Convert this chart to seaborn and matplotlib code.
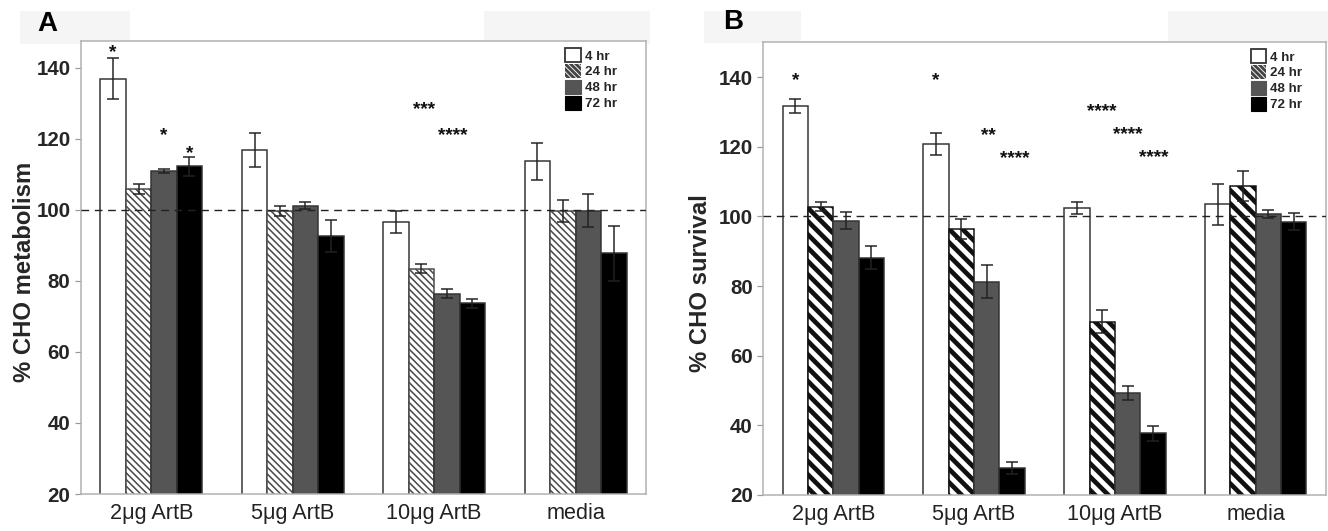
import numpy as np
import pandas as pd
import matplotlib
matplotlib.use("Agg")
import matplotlib.pyplot as plt
import matplotlib.patches as mpatches
import seaborn as sns

# ---------------- data ----------------
categories = ["2\u03bcg ArtB", "5\u03bcg ArtB", "10\u03bcg ArtB", "media"]
times = ["4 hr", "24 hr", "48 hr", "72 hr"]

# Panel A: % CHO metabolism
metab_4 = [137.0, 116.8, 96.7, 113.7]
metab_24 = [105.9, 99.8, 83.5, 99.6]
metab_48 = [110.9, 101.2, 76.4, 99.8]
metab_72 = [112.3, 92.7, 73.7, 87.8]
metab_err_4 = [5.7, 4.8, 3.1, 5.2]
metab_err_24 = [1.3, 1.4, 1.2, 3.1]
metab_err_48 = [0.5, 1.0, 1.2, 4.6]
metab_err_72 = [2.7, 4.5, 1.3, 7.7]

# Panel B: % CHO survival
surv_4 = [131.8, 120.8, 102.4, 103.5]
surv_24 = [102.8, 96.4, 69.8, 108.8]
surv_48 = [98.8, 81.3, 49.3, 100.7]
surv_72 = [88.2, 27.7, 37.7, 98.5]
surv_err_4 = [2.0, 3.2, 1.6, 5.9]
surv_err_24 = [1.2, 2.8, 3.2, 4.3]
surv_err_48 = [2.5, 4.7, 1.9, 1.1]
surv_err_72 = [3.2, 1.7, 2.2, 2.5]

# significance marks: (category index, time index, y, text, x shift in bar widths)
stars_A = [(0, 0, 145.2, "*", 0.0), (0, 2, 121.9, "*", 0.0), (0, 3, 116.7, "*", 0.0),
           (2, 1, 129.0, "***", 0.1), (2, 2, 121.9, "****", 0.22)]
stars_B = [(0, 0, 140.0, "*", 0.0), (1, 0, 140.0, "*", 0.0), (1, 2, 124.0, "**", 0.07),
           (1, 3, 117.5, "****", 0.1), (2, 1, 131.0, "****", 0.0),
           (2, 2, 124.3, "****", 0.0), (2, 3, 117.7, "****", 0.05)]

ylabels = ["% CHO metabolism", "% CHO survival"]
panel_letters = ["A", "B"]
yticks = [20, 40, 60, 80, 100, 120, 140]

# ---------------- style ----------------
sns.set_style("white")
plt.rcParams["font.family"] = ["Liberation Sans", "DejaVu Sans"]

DPI = 80
W, H = 1328, 531
fig = plt.figure(figsize=(W / DPI, H / DPI), dpi=DPI)
fig.patch.set_facecolor("white")

def px(v):
    return v * 72.0 / DPI  # pixels -> points

# light grey boxes behind panel letters (figure decoration)
for (x0, y0, x1, y1) in [(20, 11, 130, 44), (484, 11, 650, 44),
                         (704, 11, 801, 43), (1168, 11, 1328, 43)]:
    fig.add_artist(mpatches.Rectangle((x0 / W, 1 - y1 / H), (x1 - x0) / W, (y1 - y0) / H,
                                      transform=fig.transFigure, facecolor="#f5f5f5",
                                      edgecolor="none", zorder=-5))

palette = {"4 hr": "white", "24 hr": "white", "48 hr": "#555555", "72 hr": "black"}

panels = [
    dict(rect=(80.5, 41.3, 646.4, 494.0), ylim=(20, 147.5),
         means=[metab_4, metab_24, metab_48, metab_72],
         errs=[metab_err_4, metab_err_24, metab_err_48, metab_err_72],
         stars=stars_A, hatch="\\\\\\\\", hatch_lw=1.4, hatch_col="#4a4a4a",
         letter_xy=(47, 24), label_x=-0.079, label_y=0.49,
         legend_anchor=(0.857, 0.985)),
    dict(rect=(763.0, 42.3, 1326.0, 495.0), ylim=(20, 150),
         means=[surv_4, surv_24, surv_48, surv_72],
         errs=[surv_err_4, surv_err_24, surv_err_48, surv_err_72],
         stars=stars_B, hatch="\\\\", hatch_lw=4.2, hatch_col="#111111",
         letter_xy=(733, 22), label_x=-0.09, label_y=0.468,
         legend_anchor=(0.866, 0.985)),
]

for i, pdef in enumerate(panels):
    x0, y0, x1, y1 = pdef["rect"]
    ax = fig.add_axes([x0 / W, 1 - y1 / H, (x1 - x0) / W, (y1 - y0) / H])

    rows = []
    for t, vals in zip(times, pdef["means"]):
        for c, v in zip(categories, vals):
            rows.append({"cat": c, "time": t, "val": v})
    df = pd.DataFrame(rows)

    with plt.rc_context({"hatch.linewidth": pdef["hatch_lw"]}):
        sns.barplot(data=df, x="cat", y="val", hue="time", order=categories,
                    hue_order=times, palette=palette, width=0.72, gap=0,
                    edgecolor="#333333", linewidth=px(1.5), errorbar=None,
                    legend=False, ax=ax, zorder=2)

    containers = list(ax.containers)
    # hatch the 24 hr bars
    for p in containers[1]:
        p.set_hatch(pdef["hatch"])
        p.set_edgecolor(pdef["hatch_col"])
        if hasattr(p, "set_hatch_linewidth"):
            p.set_hatch_linewidth(pdef["hatch_lw"])

    # error bars
    for k, cont in enumerate(containers):
        xs = [p.get_x() + p.get_width() / 2 for p in cont]
        ys = [p.get_height() for p in cont]
        ax.errorbar(xs, ys, yerr=pdef["errs"][k], fmt="none", ecolor="#222222",
                    elinewidth=px(1.5), capsize=5.5, capthick=px(1.5), zorder=4)

    # significance stars
    for (ci, ti, yv, txt, dx) in pdef["stars"]:
        p = containers[ti][ci]
        xc = p.get_x() + p.get_width() * (0.5 + dx)
        ax.annotate(txt, (xc, yv), xytext=(0, -px(7.5)), textcoords="offset points",
                    ha="center", va="baseline", fontsize=17, fontweight="bold",
                    color="#111111", zorder=5)

    # reference line at 100
    ax.axhline(100, color="#222222", linewidth=px(1.4), linestyle=(0, (5.5, 4)), zorder=3)

    ax.set_xlim(-0.5, 3.5)
    ax.set_ylim(*pdef["ylim"])
    ax.set_yticks(yticks)
    ax.set_yticklabels([str(v) for v in yticks], fontsize=18.5, fontweight="bold")
    ax.tick_params(axis="y", left=True, length=px(6), width=px(1.2), color="#999999",
                   pad=px(4))
    ax.tick_params(axis="x", bottom=False, pad=px(5))
    for lab in ax.get_xticklabels():
        lab.set_fontsize(19.5)
        lab.set_color("#222222")
    ax.set_xlabel("")
    ax.set_ylabel(ylabels[i], fontsize=21.5, fontweight="bold")
    ax.yaxis.set_label_coords(pdef["label_x"], pdef["label_y"])
    for s in ax.spines.values():
        s.set_visible(True)
        s.set_color("#b0b0b0")
        s.set_linewidth(px(1.5))

    # legend
    with plt.rc_context({"hatch.linewidth": 2.6}):
        handles = [
            mpatches.Patch(facecolor="white", edgecolor="#333333", linewidth=px(1.8)),
            mpatches.Patch(facecolor="white", edgecolor="#444444", hatch="\\\\\\\\\\", linewidth=0),
            mpatches.Patch(facecolor="#555555", edgecolor="#555555"),
            mpatches.Patch(facecolor="black", edgecolor="black"),
        ]
        leg = ax.legend(handles, times, loc="upper left", bbox_to_anchor=pdef["legend_anchor"],
                        frameon=False, prop={"size": 12, "weight": "bold"},
                        handlelength=1.15, handleheight=1.25, labelspacing=0.1,
                        handletextpad=0.3, borderpad=0, borderaxespad=0)
        for hp in leg.get_patches():
            if hasattr(hp, "set_hatch_linewidth") and hp.get_hatch():
                hp.set_hatch_linewidth(2.6)

    lx, ly = pdef["letter_xy"]
    fig.text(lx / W, 1 - ly / H, panel_letters[i], ha="center", va="center",
             fontsize=25, fontweight="bold", color="black")

fig.savefig("out.png", dpi=DPI, facecolor="white")
